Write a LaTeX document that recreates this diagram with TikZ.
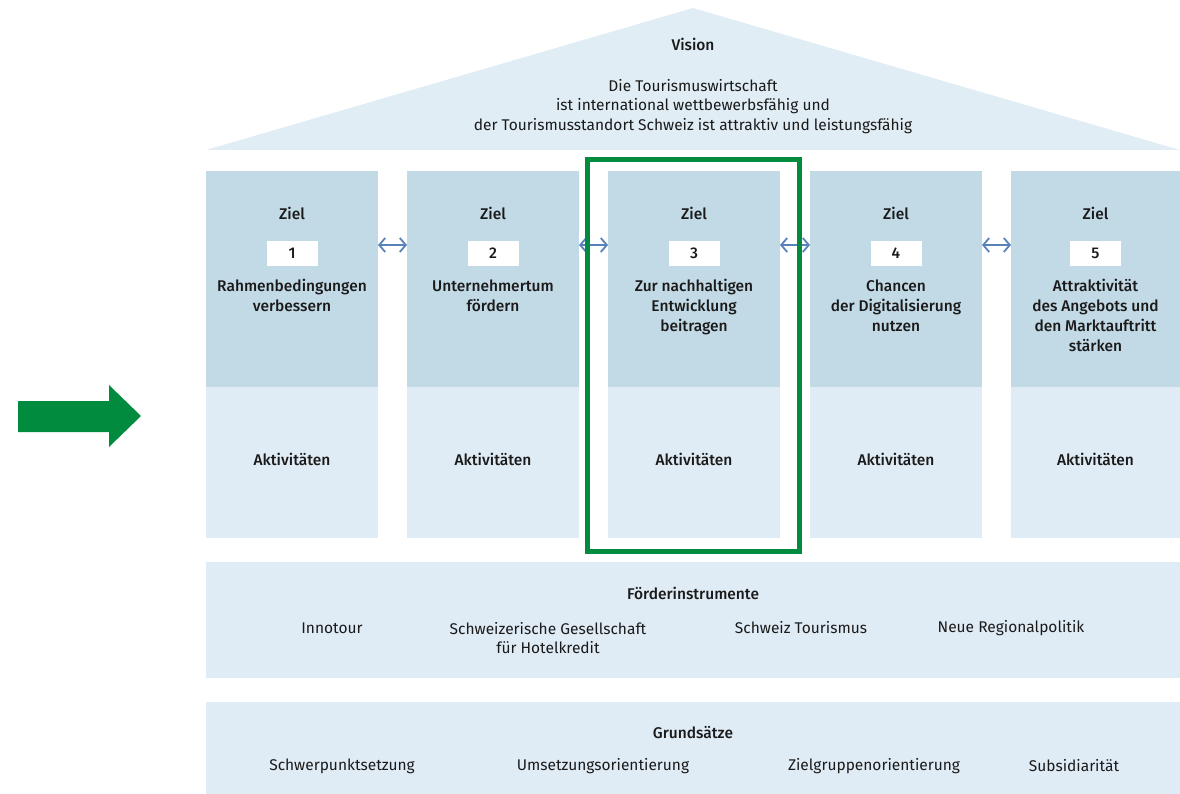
\documentclass[tikz,border=0pt]{standalone}
\usepackage{fontspec}
\setmainfont{Fira Sans}[BoldFont={Fira Sans Medium}]
\usetikzlibrary{arrows.meta}
\definecolor{roofc}{HTML}{E1EDF5}
\definecolor{darkc}{HTML}{C2D9E6}
\definecolor{lightc}{HTML}{E0ECF5}
\definecolor{greenc}{HTML}{008B3E}
\definecolor{linkc}{HTML}{5882BA}
\definecolor{inkc}{HTML}{1A1A1A}
\begin{document}
\begin{tikzpicture}[x=1pt,y=-1pt,
  every node/.style={inner sep=0pt, outer sep=0pt, text=inkc},
  txt/.style={font=\fontsize{15.5}{19.5}\selectfont, align=center},
  hd/.style={font=\fontsize{15.5}{20}\selectfont\bfseries, align=center},
  zielbox/.style={fill=darkc, minimum width=172pt, minimum height=216pt, anchor=north west},
  aktbox/.style={fill=lightc, minimum width=172pt, minimum height=151pt, anchor=north west},
  numbox/.style={fill=white, minimum width=51pt, minimum height=25pt, font=\fontsize{15.5}{16}\selectfont\bfseries},
  band/.style={fill=lightc, anchor=north west, minimum width=974pt},
  biarrow/.style={draw=linkc, line width=1.8pt, {Straight Barb[length=6pt,width=14pt]}-{Straight Barb[length=6pt,width=14pt]}},
  frameline/.style={draw=greenc, line width=5pt}
]
\useasboundingbox (0,0) rectangle (1180,794);

% roof
\fill[roofc] (206,150) -- (693,8) -- (1180,150) -- cycle;
\node[hd] (vision) at (693,44) {Vision};
\node[txt, anchor=north] (visiontext) at (693,79) {Die Tourismuswirtschaft\\ist international wettbewerbsfähig und\\der Tourismusstandort Schweiz ist attraktiv und leistungsfähig};

% columns
\foreach \i/\x/\w in {1/206/172, 2/407/172, 3/608/172, 4/810/172, 5/1011/169}{
  \node[zielbox, minimum width=\w pt] (g\i) at (\x,171) {};
  \node[aktbox, minimum width=\w pt] (a\i) at (\x,387) {};
  \node[hd] (z\i) at ([yshift=-42pt]g\i.north) {Ziel};
  \node[numbox] (n\i) at ([yshift=-82.5pt]g\i.north) {\i};
  \node[hd] (akt\i) at ([yshift=-72pt]a\i.north) {Aktivitäten};
}
\node[hd, anchor=north] (t1) at ([yshift=-108.5pt]g1.north) {Rahmenbedingungen\\verbessern};
\node[hd, anchor=north] (t2) at ([yshift=-108.5pt]g2.north) {Unternehmertum\\fördern};
\node[hd, anchor=north] (t3) at ([yshift=-108.5pt]g3.north) {Zur nachhaltigen\\Entwicklung\\beitragen};
\node[hd, anchor=north] (t4) at ([yshift=-108.5pt]g4.north) {Chancen\\der Digitalisierung\\nutzen};
\node[hd, anchor=north] (t5) at ([yshift=-108.5pt]g5.north) {Attraktivität\\des Angebots und\\den Marktauftritt\\stärken};

% links between goals
\foreach \a/\b in {1/2, 2/3, 3/4, 4/5}{
  \draw[biarrow] ([yshift=-74pt]g\a.north east) -- ([yshift=-74pt]g\b.north west);
}

% highlight frame
\draw[frameline] ([xshift=-20.5pt,yshift=11.5pt]g3.north west) rectangle ([xshift=19.5pt,yshift=-13pt]a3.south east);

% Förderinstrumente
\node[band, minimum height=116pt] (foerder) at (206,562) {};
\node[hd] (foerdertitle) at (693,593) {Förderinstrumente};
\node[txt] (innotour) at (332,628) {Innotour};
\node[txt, anchor=north] (sgh) at (548,622) {Schweizerische Gesellschaft\\für Hotelkredit};
\node[txt] (st) at (801,628) {Schweiz Tourismus};
\node[txt] (nrp) at (1011,628) {Neue Regionalpolitik};

% Grundsätze
\node[band, minimum height=92pt] (grund) at (206,702) {};
\node[hd] (grundtitle) at (693,733) {Grundsätze};
\node[txt] (g-a) at (342,766) {Schwerpunktsetzung};
\node[txt] (g-b) at (603,766) {Umsetzungsorientierung};
\node[txt] (g-c) at (874,766) {Zielgruppenorientierung};
\node[txt] (g-d) at (1074,766) {Subsidiarität};

% green pointer arrow
\fill[greenc] (18,401) -- (109,401) -- (109,385) -- (141,416) -- (109,447) -- (109,432) -- (18,432) -- cycle;
\end{tikzpicture}
\end{document}
